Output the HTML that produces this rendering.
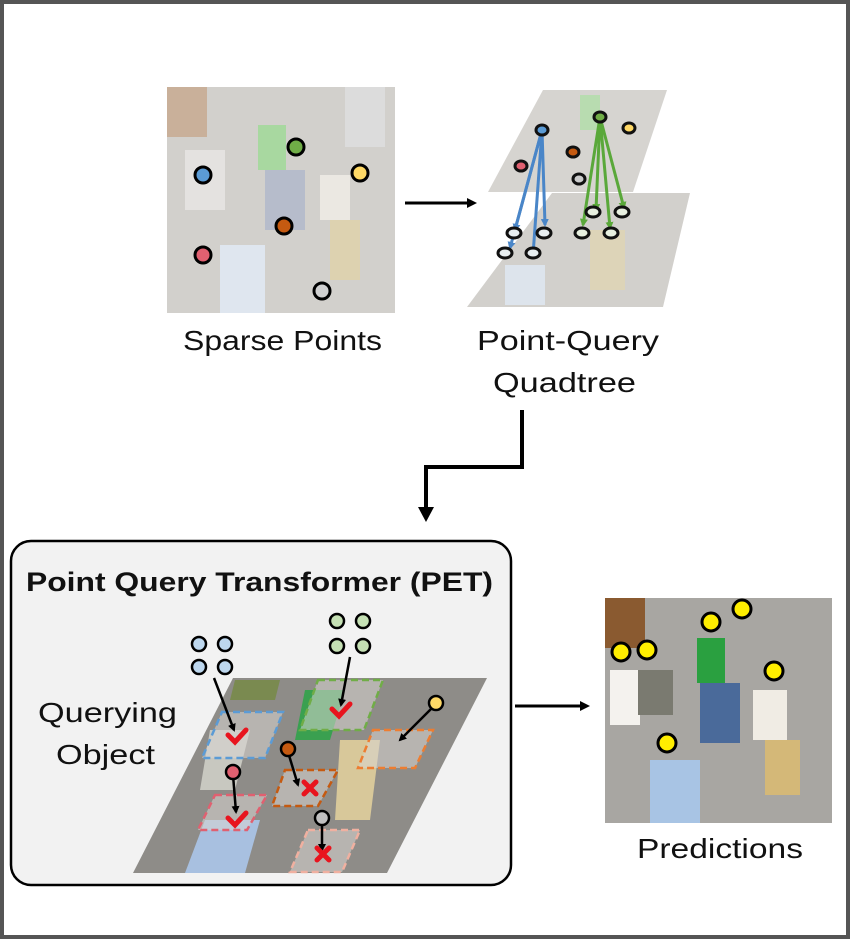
<!DOCTYPE html>
<html><head><meta charset="utf-8"><style>
html,body{margin:0;padding:0;background:#fff}
svg{display:block}
text{font-family:"Liberation Sans","DejaVu Sans",sans-serif}
</style></head><body>
<svg width="850" height="939" viewBox="0 0 850 939" xmlns="http://www.w3.org/2000/svg">
<defs>
<marker id="ah" markerWidth="10" markerHeight="10" refX="5" refY="5" orient="auto" markerUnits="userSpaceOnUse"><path d="M0,0 L10,5 L0,10 z" fill="#000"/></marker>
<marker id="sa" markerWidth="8" markerHeight="8" refX="6" refY="4" orient="auto" markerUnits="userSpaceOnUse"><path d="M0,0 L8,4 L0,8 z" fill="#000"/></marker>
<marker id="ba" markerWidth="8" markerHeight="8" refX="6" refY="4" orient="auto" markerUnits="userSpaceOnUse"><path d="M0,0 L8,4 L0,8 z" fill="#4a86c8"/></marker>
<marker id="ga" markerWidth="8" markerHeight="8" refX="6" refY="4" orient="auto" markerUnits="userSpaceOnUse"><path d="M0,0 L8,4 L0,8 z" fill="#5aa83a"/></marker>
</defs>
<rect x="2" y="2" width="846" height="935" fill="#fff" stroke="#555" stroke-width="4"/>

<g>
<rect x="167" y="87" width="228" height="226" fill="#d2d0cc"/>
<rect x="167" y="87" width="40" height="50" fill="#c9b09a"/>
<rect x="258" y="125" width="28" height="45" fill="#a8d8a0"/>
<rect x="265" y="170" width="40" height="60" fill="#b6bccb"/>
<rect x="320" y="175" width="30" height="45" fill="#ebe8e2"/>
<rect x="330" y="220" width="30" height="60" fill="#ddd2b0"/>
<rect x="220" y="245" width="45" height="68" fill="#dfe6ef"/>
<rect x="345" y="87" width="40" height="60" fill="#dcdcdc"/>
<rect x="185" y="150" width="40" height="60" fill="#e4e2e0"/>
</g>
<g stroke="#000" stroke-width="3">
<circle cx="203" cy="175" r="8" fill="#5b9bd5"/>
<circle cx="296" cy="147" r="8" fill="#70ad47"/>
<circle cx="360" cy="173" r="8" fill="#ffd966"/>
<circle cx="284" cy="226" r="8" fill="#c55a11"/>
<circle cx="203" cy="255" r="8" fill="#e06070"/>
<circle cx="322" cy="291" r="8" fill="#d0d0d0"/>
</g>
<text x="183" y="350" font-size="28" textLength="199" lengthAdjust="spacingAndGlyphs" fill="#111">Sparse Points</text>

<line x1="405" y1="203" x2="472" y2="203" stroke="#000" stroke-width="3" marker-end="url(#ah)"/>

<polygon points="543,90 667,90 633,192 488,192" fill="#d6d4d0"/>
<polygon points="552,193 690,193 663,307 467,307" fill="#d2d0cc"/>
<rect x="505" y="265" width="40" height="40" fill="#dde4ec"/>
<rect x="590" y="230" width="35" height="60" fill="#ddd4b8"/>
<rect x="580" y="95" width="20" height="35" fill="#b8dcb0"/>
<g stroke="#4a86c8" stroke-width="3" fill="none">
<line x1="542" y1="130" x2="510" y2="248" marker-end="url(#ba)"/>
<line x1="542" y1="130" x2="533" y2="255" marker-end="url(#ba)"/>
<line x1="542" y1="130" x2="545" y2="225" marker-end="url(#ba)"/>
<line x1="542" y1="130" x2="515" y2="230" marker-end="url(#ba)"/>
</g>
<g stroke="#5aa83a" stroke-width="3" fill="none">
<line x1="600" y1="117" x2="583" y2="225" marker-end="url(#ga)"/>
<line x1="600" y1="117" x2="596" y2="210" marker-end="url(#ga)"/>
<line x1="600" y1="117" x2="610" y2="228" marker-end="url(#ga)"/>
<line x1="600" y1="117" x2="624" y2="208" marker-end="url(#ga)"/>
</g>
<g stroke="#111" stroke-width="3">
<ellipse cx="542" cy="130" rx="6" ry="5" fill="#5b9bd5"/>
<ellipse cx="600" cy="117" rx="6" ry="5" fill="#70ad47"/>
<ellipse cx="629" cy="128" rx="6" ry="5" fill="#ffd966"/>
<ellipse cx="573" cy="152" rx="6" ry="5" fill="#c55a11"/>
<ellipse cx="521" cy="166" rx="6" ry="5" fill="#e06070"/>
<ellipse cx="579" cy="179" rx="6" ry="5" fill="#ccc"/>
<ellipse cx="514" cy="233" rx="7" ry="5" fill="#e8eef0"/>
<ellipse cx="544" cy="233" rx="7" ry="5" fill="#e8eef0"/>
<ellipse cx="505" cy="253" rx="7" ry="5" fill="#e8eef0"/>
<ellipse cx="533" cy="253" rx="7" ry="5" fill="#e8eef0"/>
<ellipse cx="593" cy="212" rx="7" ry="5" fill="#e8f0e0"/>
<ellipse cx="622" cy="212" rx="7" ry="5" fill="#e8f0e0"/>
<ellipse cx="582" cy="233" rx="7" ry="5" fill="#e8f0e0"/>
<ellipse cx="611" cy="233" rx="7" ry="5" fill="#e8f0e0"/>
</g>
<text x="477" y="350" font-size="28" textLength="182" lengthAdjust="spacingAndGlyphs" fill="#111">Point-Query</text>
<text x="493" y="392" font-size="28" textLength="143" lengthAdjust="spacingAndGlyphs" fill="#111">Quadtree</text>

<polyline points="522,410 522,467 426,467 426,508" fill="none" stroke="#000" stroke-width="4"/>
<path d="M418,507 L434,507 L426,522 z" fill="#000"/>

<rect x="11" y="541" width="500" height="344" rx="20" fill="#f2f2f2" stroke="#000" stroke-width="2.5"/>
<text x="26" y="591" font-size="27" font-weight="bold" textLength="467" lengthAdjust="spacingAndGlyphs" fill="#111">Point Query Transformer (PET)</text>
<text x="38" y="722" font-size="28" textLength="139" lengthAdjust="spacingAndGlyphs" fill="#111">Querying</text>
<text x="56" y="764" font-size="28" textLength="99" lengthAdjust="spacingAndGlyphs" fill="#111">Object</text>

<polygon points="233,678 487,678 387,873 133,873" fill="#8e8c88"/>
<polygon points="235,680 280,680 275,700 230,700" fill="#7a8a50"/>
<polygon points="305,690 345,690 330,740 295,740" fill="#3aa050"/>
<polygon points="340,740 380,740 370,820 335,820" fill="#d8c89a"/>
<polygon points="205,820 260,820 245,873 185,873" fill="#a8c0e0"/>
<polygon points="210,730 250,730 235,790 200,790" fill="#c8c8c0"/>
<g fill="#d8d6d2" fill-opacity="0.55" stroke-width="2.5" stroke-dasharray="7,4">
<polygon points="222,712 283,712 265,758 202,758" stroke="#5b9bd5"/>
<polygon points="318,680 383,680 364,730 300,730" stroke="#70ad47"/>
<polygon points="373,730 433,730 415,768 358,768" stroke="#ed7d31"/>
<polygon points="285,770 338,770 318,806 272,806" stroke="#c55a11"/>
<polygon points="215,795 267,795 247,830 198,830" stroke="#e06070"/>
<polygon points="308,830 360,830 342,872 290,872" stroke="#f0b0a0"/>
</g>
<g stroke="#000" stroke-width="2.5">
<circle cx="199" cy="644" r="7" fill="#bdd7ee"/><circle cx="225" cy="644" r="7" fill="#bdd7ee"/>
<circle cx="199" cy="667" r="7" fill="#bdd7ee"/><circle cx="225" cy="667" r="7" fill="#bdd7ee"/>
<circle cx="337" cy="621" r="7" fill="#c5e0b4"/><circle cx="363" cy="621" r="7" fill="#c5e0b4"/>
<circle cx="337" cy="646" r="7" fill="#c5e0b4"/><circle cx="363" cy="646" r="7" fill="#c5e0b4"/>
</g>
<g stroke="#000" stroke-width="2.5" fill="none">
<line x1="214" y1="678" x2="234" y2="730" marker-end="url(#sa)"/>
<line x1="350" y1="657" x2="341" y2="705" marker-end="url(#sa)"/>
<line x1="434" y1="706" x2="400" y2="740" marker-end="url(#sa)"/>
<line x1="288" y1="752" x2="298" y2="785" marker-end="url(#sa)"/>
<line x1="233" y1="775" x2="236" y2="812" marker-end="url(#sa)"/>
<line x1="322" y1="822" x2="322" y2="850" marker-end="url(#sa)"/>
</g>
<g stroke="#000" stroke-width="2.5">
<circle cx="436" cy="703" r="7" fill="#ffd966"/>
<circle cx="288" cy="749" r="7" fill="#c55a11"/>
<circle cx="233" cy="772" r="7" fill="#e06070"/>
<circle cx="322" cy="818" r="7" fill="#c0c0c0"/>
</g>
<g stroke="#e8141e" stroke-width="5" fill="none" stroke-linecap="round">
<polyline points="228,735 235,742 246,730"/>
<polyline points="332,709 339,716 350,704"/>
<polyline points="228,818 235,825 246,813"/>
<path d="M304,782 L316,794 M316,782 L304,794"/>
<path d="M317,848 L329,860 M329,848 L317,860"/>
</g>

<line x1="515" y1="706" x2="585" y2="706" stroke="#000" stroke-width="3" marker-end="url(#ah)"/>

<rect x="605" y="598" width="227" height="225" fill="#a8a6a2"/>
<rect x="605" y="598" width="40" height="50" fill="#8a5a30"/>
<rect x="697" y="638" width="28" height="45" fill="#2aa040"/>
<rect x="700" y="683" width="40" height="60" fill="#4a6a9a"/>
<rect x="753" y="690" width="34" height="50" fill="#f0ece4"/>
<rect x="765" y="740" width="35" height="55" fill="#d4b878"/>
<rect x="650" y="760" width="50" height="63" fill="#a8c4e4"/>
<rect x="610" y="670" width="30" height="55" fill="#f4f2ee"/>
<rect x="638" y="670" width="35" height="45" fill="#7a7a70"/>
<g stroke="#000" stroke-width="3" fill="#ffee00">
<circle cx="621" cy="652" r="9"/>
<circle cx="647" cy="650" r="9"/>
<circle cx="711" cy="622" r="9"/>
<circle cx="742" cy="609" r="9"/>
<circle cx="774" cy="671" r="9"/>
<circle cx="667" cy="743" r="9"/>
</g>
<text x="637" y="858" font-size="28" textLength="166" lengthAdjust="spacingAndGlyphs" fill="#111">Predictions</text>
</svg>
</body></html>
